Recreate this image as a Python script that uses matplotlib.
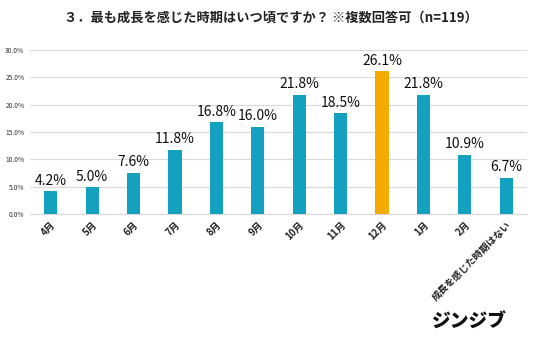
import matplotlib
matplotlib.use("Agg")
import matplotlib.pyplot as plt

plt.rcParams['font.family'] = ['Noto Sans CJK JP', 'DejaVu Sans']

categories = ["4月", "5月", "6月", "7月", "8月", "9月", "10月", "11月", "12月", "1月", "2月", "成長を感じた時期はない"]
values = [4.2, 5.0, 7.6, 11.8, 16.8, 16.0, 21.8, 18.5, 26.1, 21.8, 10.9, 6.7]
highlight = "12月"

teal = '#14a0bf'
orange = '#f5aa00'
colors = [orange if c == highlight else teal for c in categories]

fig = plt.figure(figsize=(5.36, 3.39), dpi=100)
ax = fig.add_axes([0.056, 0.368, 0.927, 0.485])

x = range(len(categories))
ax.bar(x, values, width=0.32, color=colors, zorder=3)
for i, v in zip(x, values):
    ax.text(i, v + 0.6, f"{v:.1f}%", ha='center', va='bottom', fontsize=10,
            fontweight='normal', color='#111111')

ax.set_ylim(0, 30)
ax.set_xlim(-0.5, len(categories) - 0.5)
ax.set_yticks([0, 5, 10, 15, 20, 25, 30])
ax.set_yticklabels([f"{t:.1f}%" for t in [0, 5, 10, 15, 20, 25, 30]], fontsize=4.8, color='#333333')
ax.set_xticks(list(x))
ax.set_xticklabels(categories, rotation=45, ha='right', rotation_mode='anchor',
                   fontsize=7, fontweight='bold', color='#222222')
ax.tick_params(axis='both', length=0, pad=4)
ax.grid(axis='y', color='#d9d9d9', linewidth=0.8, zorder=0)
for s in ['top', 'right', 'left']:
    ax.spines[s].set_visible(False)
ax.spines['bottom'].set_color('#d9d9d9')

fig.text(0.505, 0.948, "３．最も成長を感じた時期はいつ頃ですか？ ※複数回答可（n=119）",
         ha='center', va='center', fontsize=9.5, fontweight='bold', color='#222222')
fig.text(0.945, 0.02, "ジンジブ", ha='right', va='bottom', fontsize=13.5,
         fontweight='black', color='#111111')

fig.savefig("out.png", dpi=100)
